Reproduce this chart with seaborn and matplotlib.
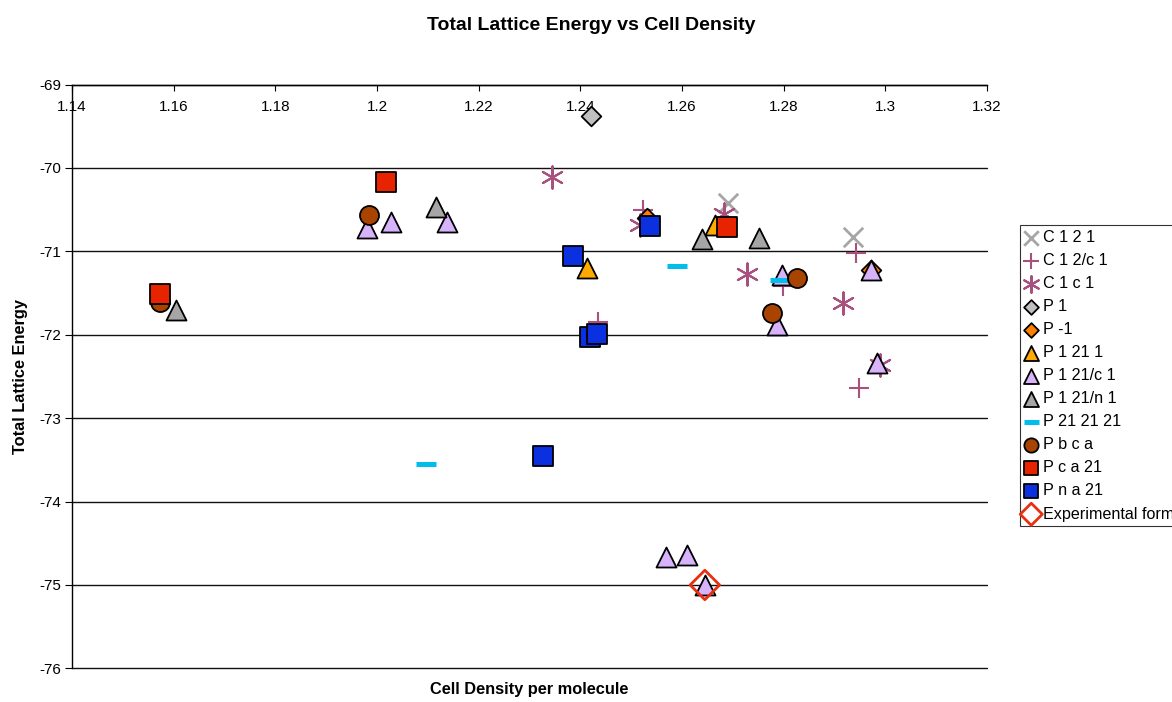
import matplotlib
matplotlib.use("Agg")
import matplotlib.pyplot as plt
import seaborn as sns
import numpy as np

sns.set_theme(style="white")
plt.rcParams['font.family'] = ['Liberation Sans', 'DejaVu Sans']
plt.rcParams['text.color'] = 'black'
plt.rcParams['axes.labelcolor'] = 'black'
plt.rcParams['xtick.color'] = 'black'
plt.rcParams['ytick.color'] = 'black'

# ---- data ----
c121_x = [1.2690, 1.2936]
c121_y = [-70.421, -70.829]
c12c1_x = [1.2523, 1.2434, 1.2799, 1.2942, 1.2949]
c12c1_y = [-70.505, -71.848, -71.416, -71.020, -72.639]
c1c1_x = [1.2344, 1.2517, 1.2683, 1.2727, 1.2916, 1.2990]
c1c1_y = [-70.109, -70.685, -70.553, -71.272, -71.624, -72.363]
p1_x = [1.2421]
p1_y = [-69.378]
pm1_x = [1.2531, 1.2972]
pm1_y = [-70.601, -71.224]
p1211_x = [1.2414, 1.2665]
p1211_y = [-71.200, -70.685]
p121c1_x = [1.1980, 1.2027, 1.2137, 1.2796, 1.2787, 1.2972, 1.2984, 1.2569, 1.2609, 1.2645]
p121c1_y = [-70.721, -70.645, -70.645, -71.284, -71.884, -71.224, -72.343, -74.662, -74.641, -75.001]
p121n1_x = [1.1605, 1.2116, 1.2639, 1.2752]
p121n1_y = [-71.704, -70.472, -70.856, -70.844]
p212121_x = [1.2591, 1.2793, 1.2096]
p212121_y = [-71.176, -71.344, -73.550]
pbca_x = [1.1573, 1.1985, 1.2826, 1.2778]
pbca_y = [-71.608, -70.565, -71.324, -71.743]
pca21_x = [1.1573, 1.2017, 1.2689]
pca21_y = [-71.512, -70.165, -70.705]
pna21_x = [1.2537, 1.2385, 1.2419, 1.2433, 1.2327]
pna21_y = [-70.697, -71.056, -72.031, -71.995, -73.454]
exp_x = [1.2645]
exp_y = [-75.001]

x_ticks = [1.14, 1.16, 1.18, 1.2, 1.22, 1.24, 1.26, 1.28, 1.3, 1.32]
x_tick_labels = ["1.14", "1.16", "1.18", "1.2", "1.22", "1.24", "1.26", "1.28", "1.3", "1.32"]
y_ticks = [-76, -75, -74, -73, -72, -71, -70, -69]

fig = plt.figure(figsize=(11.72, 7.02), dpi=100)
ax = fig.add_axes([72/1172, 1-668.3/702, (987-72)/1172, (668.3-84.5)/702])

pink = '#a8507e'
series = [
    ("C 1 2 1", c121_x, c121_y, dict(marker='x', s=14**2, color='#a6a6a6', linewidth=2.0)),
    ("C 1 2/c 1", c12c1_x, c12c1_y, dict(marker='+', s=15**2, color=pink, linewidth=1.5)),
    ("C 1 c 1", c1c1_x, c1c1_y, dict(marker=(6, 2, 0), s=16**2, color=pink, linewidth=1.5)),
    ("P 1", p1_x, p1_y, dict(marker='D', s=10**2, color='#c0c0c0', edgecolor='black', linewidth=1.3)),
    ("P -1", pm1_x, pm1_y, dict(marker='D', s=10**2, color='#ff8000', edgecolor='black', linewidth=1.3)),
    ("P 1 21 1", p1211_x, p1211_y, dict(marker='^', s=14.4**2, color='#ffaa00', edgecolor='black', linewidth=1.3)),
    ("P 1 21/c 1", p121c1_x, p121c1_y, dict(marker='^', s=14.4**2, color='#d6b3fb', edgecolor='black', linewidth=1.3)),
    ("P 1 21/n 1", p121n1_x, p121n1_y, dict(marker='^', s=14.4**2, color='#a6a6a6', edgecolor='black', linewidth=1.3)),
    ("P 21 21 21", p212121_x, p212121_y, dict(marker='_', s=14.4**2, color='#00bdec', linewidth=3.6)),
    ("P b c a", pbca_x, pbca_y, dict(marker='o', s=13.7**2, color='#a84400', edgecolor='black', linewidth=1.3)),
    ("P c a 21", pca21_x, pca21_y, dict(marker='s', s=14.2**2, color='#e82400', edgecolor='black', linewidth=1.3)),
    ("P n a 21", pna21_x, pna21_y, dict(marker='s', s=14.2**2, color='#0a30e0', edgecolor='black', linewidth=1.3)),
    ("Experimental form", exp_x, exp_y, dict(marker='D', s=15**2, facecolor='none', edgecolor='#e83010', linewidth=2.0)),
]

for i, (name, xs, ys, kw) in enumerate(series):
    sns.scatterplot(x=xs, y=ys, ax=ax, label=name, zorder=3 + i, **kw)

ax.set_xlim(1.14, 1.32)
ax.set_ylim(-76, -69)
ax.set_xticks(x_ticks)
ax.set_xticklabels(x_tick_labels)
ax.set_yticks(y_ticks)
ax.set_yticklabels([str(v) for v in y_ticks])

ax.xaxis.tick_top()
ax.tick_params(axis='x', which='both', top=True, bottom=False, labeltop=True,
               labelbottom=False, direction='in', length=4, width=0.8, pad=-21,
               labelsize=11, colors='black')
ax.tick_params(axis='y', which='both', left=True, direction='out', length=5,
               width=0.8, pad=3, labelsize=11, colors='black')

for y in y_ticks:
    ax.axhline(y, color='#111111', lw=1.0, zorder=1, clip_on=False)

for s in ['right', 'bottom']:
    ax.spines[s].set_visible(False)
for s in ['left', 'top']:
    ax.spines[s].set_visible(True)
    ax.spines[s].set_color('black')
    ax.spines[s].set_linewidth(1.0)
ax.grid(False)

ax.set_xlabel("Cell Density per molecule", fontsize=11.8, fontweight='bold')
ax.xaxis.set_label_position('bottom')
ax.xaxis.set_label_coords(0.5, -0.024)
ax.set_ylabel("Total Lattice Energy", fontsize=11.8, fontweight='bold')
ax.yaxis.set_label_coords((28-72)/915, (668.3-376)/583.8)

fig.text(591/1172, 1-25/702, "Total Lattice Energy vs Cell Density",
         ha='center', va='center', fontsize=14, fontweight='bold')

leg = ax.legend(loc='upper left', bbox_to_anchor=(1020/1172, 1-225/702),
                bbox_transform=fig.transFigure, frameon=True, fancybox=False,
                edgecolor='black', fontsize=11.6, markerscale=0.75,
                handlelength=0.8, handletextpad=0.3, borderpad=0.3,
                labelspacing=0.5, borderaxespad=0)
leg.get_frame().set_linewidth(0.8)

fig.savefig("out.png", dpi=100)
